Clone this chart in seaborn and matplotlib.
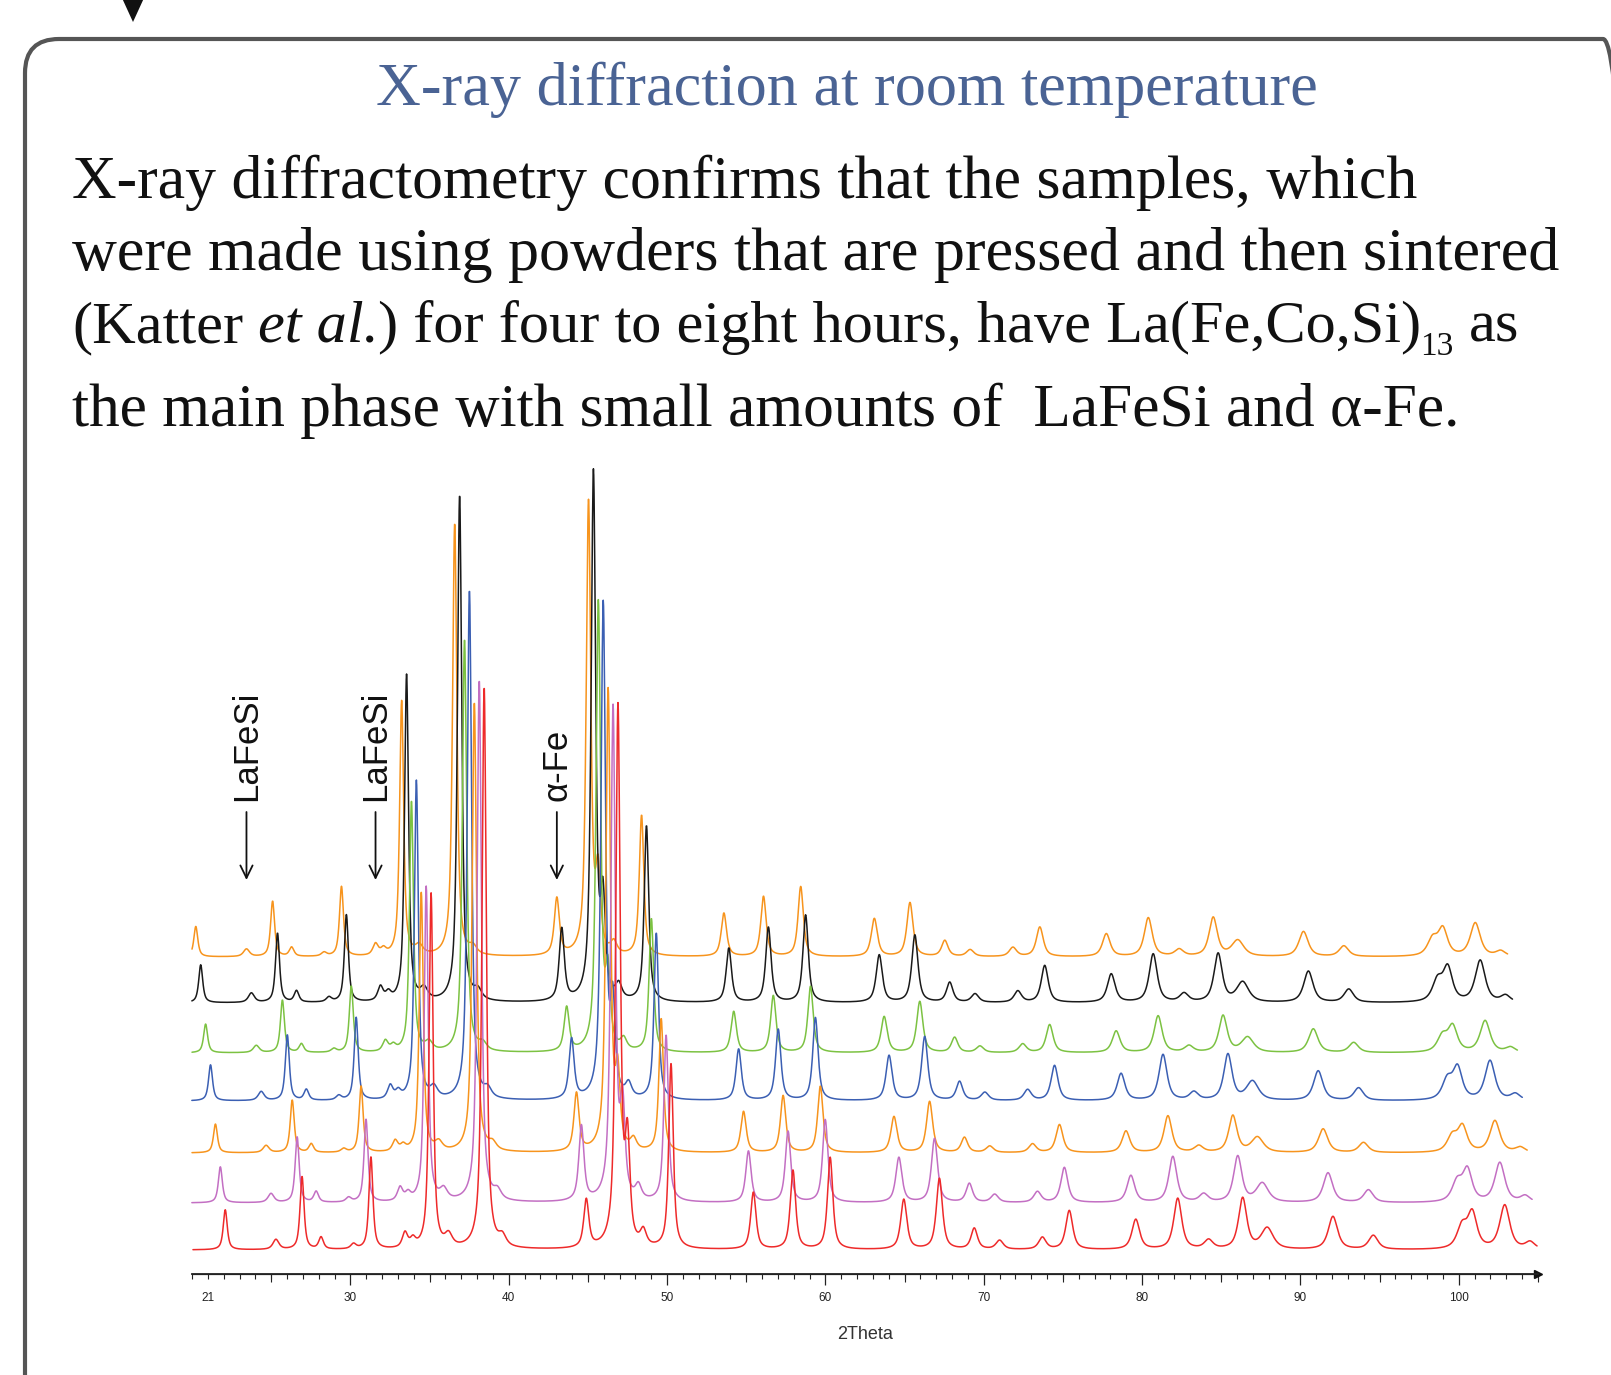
import numpy as np
import pandas as pd
import matplotlib
matplotlib.use("Agg")
import matplotlib.pyplot as plt
import seaborn as sns
from matplotlib.patches import FancyBboxPatch, Polygon
from matplotlib.transforms import IdentityTransform
from matplotlib.ticker import FixedLocator, MultipleLocator

W, H, DPI = 1611, 1375, 100

# ---- diffraction data -------------------------------------------------------
# traces from top to bottom of the stack
samples = ["S1", "S2", "S3", "S4", "S5", "S6", "S7"]
colors = ["#f7941d", "#1a1a1a", "#7cc242", "#3b5fb3", "#f7941d", "#c36fc3", "#ee2a2a"]
intensity_scale = [0.76, 0.95, 0.72, 0.90, 0.72, 0.90, 1.00]

# strongest La(Fe,Co,Si)13 reflections, height per sample
main_pos = [35.10, 38.45, 46.90]
main_fwhm = [0.30, 0.32, 0.34]
main_35 = [255, 327, 250, 319, 259, 315, 355]
main_38 = [433, 507, 413, 510, 450, 522, 562]
main_47 = [452, 527, 448, 494, 460, 492, 540]

# alpha-Fe (110), height per sample
alpha_fe_pos, alpha_fe_fwhm = 44.90, 0.38
alpha_fe_height = [57, 72, 44, 60, 58, 75, 48]

# remaining reflections: 2theta (deg), height (counts, arb.), FWHM (deg)
peak_pos = [22.10, 25.30, 26.95, 28.15, 30.20, 31.30, 33.45, 33.95, 36.20, 39.60,
            47.50, 48.50, 50.25, 55.45, 57.95, 60.30, 64.95, 67.20, 69.40, 71.00,
            73.70, 75.40, 79.60, 82.25, 84.20, 86.35, 87.90, 92.05, 94.60, 100.20,
            100.85, 102.90, 104.50]
peak_height = [40, 10, 73, 12, 5, 92, 15, 8, 12, 10,
               100, 15, 185, 57, 79, 92, 50, 71, 21, 9,
               12, 39, 30, 51, 9, 51, 21, 33, 14, 22,
               35, 44, 7]
peak_fwhm = [0.30, 0.45, 0.30, 0.35, 0.40, 0.30, 0.40, 0.40, 0.55, 0.55,
             0.36, 0.45, 0.34, 0.40, 0.40, 0.40, 0.46, 0.46, 0.48, 0.55,
             0.55, 0.52, 0.58, 0.60, 0.65, 0.62, 0.90, 0.70, 0.70, 0.75,
             0.70, 0.75, 0.70]
lafesi_pos = [25.30, 33.45]

scan_start, scan_end, scan_step = 20.06, 104.95, 0.02

# stacking of the traces (display offsets)
y_offset = [317, 271, 221, 173, 121, 71, 24]
x_offset = [-1.86, -1.55, -1.24, -0.93, -0.62, -0.31, 0.0]


def pseudo_voigt(tt, pos, h, fwhm, eta=0.75):
    d = (tt - pos) / (fwhm / 2)
    return h * (eta / (1 + d ** 2) + (1 - eta) * np.exp(-np.log(2) * d ** 2))


tt = np.arange(scan_start, scan_end, scan_step)
main_heights = list(zip(main_35, main_38, main_47))
frames = []
for i, s in enumerate(samples):
    counts = np.zeros_like(tt)
    for p, h, w in zip(peak_pos, peak_height, peak_fwhm):
        counts += intensity_scale[i] * pseudo_voigt(tt, p, h, w)
    for p, h, w in zip(main_pos, main_heights[i], main_fwhm):
        counts += pseudo_voigt(tt, p, h, w)
    counts += pseudo_voigt(tt, alpha_fe_pos, alpha_fe_height[i], alpha_fe_fwhm)
    frames.append(pd.DataFrame({"sample": s,
                                "two_theta": tt + x_offset[i],
                                "counts": counts + y_offset[i]}))
df = pd.concat(frames, ignore_index=True)

# ---- figure -----------------------------------------------------------------
sns.set_style("ticks")
plt.rcParams["font.family"] = ["Liberation Sans", "DejaVu Sans"]

fig = plt.figure(figsize=(W / DPI, H / DPI), dpi=DPI)
fig.patch.set_facecolor("white")

# slide frame and connector arrowhead
frame = FancyBboxPatch((25, -60), 1612, H - 39 + 60,
                       boxstyle="round,pad=0,rounding_size=34",
                       transform=IdentityTransform(), fill=False,
                       edgecolor="#555555", linewidth=3.0)
fig.patches.append(frame)
tri = Polygon([(122, H + 2), (144, H + 2), (133, H - 22)], closed=True,
              transform=IdentityTransform(), facecolor="#111111", edgecolor="none")
fig.patches.append(tri)

renderer = fig.canvas.get_renderer()
SERIF = "Liberation Serif"


def text_width(s, size, **kw):
    t = fig.text(0, 0, s, fontsize=size, **kw)
    w = t.get_window_extent(renderer).width
    t.remove()
    return w


def rich_line(pieces, x_px, base_px, width_px, ref=40.0, **common):
    """Lay out a line made of styled pieces, scaled to a given pixel width.
    Each piece: (text, style) where style may hold 'style', 'rel' (size
    factor) and 'drop' (baseline drop in em). None stands for a word space."""
    space = text_width("x x", ref, **common) - text_width("xx", ref, **common)
    widths = []
    for p in pieces:
        if p is None:
            widths.append(space)
        else:
            s, st = p
            widths.append(text_width(s, ref * st.get("rel", 1.0),
                                     style=st.get("style", "normal"), **common))
    k = width_px / sum(widths)
    size = ref * k
    x = x_px
    for p, w in zip(pieces, widths):
        if p is not None:
            s, st = p
            drop = st.get("drop", 0.0) * size * DPI / 72
            fig.text(x / W, 1 - (base_px + drop) / H, s, ha="left", va="baseline",
                     fontsize=size * st.get("rel", 1.0),
                     style=st.get("style", "normal"), **common)
        x += w * k


def fitted_text(s, x_px, base_px, width_px, ha="left", **kw):
    t = fig.text(x_px / W, 1 - base_px / H, s, ha=ha, va="baseline",
                 fontsize=40, **kw)
    w = t.get_window_extent(renderer).width
    t.set_fontsize(40 * width_px / w)
    return t


fitted_text("X-ray diffraction at room temperature", 847, 105, 942, ha="center",
            family=SERIF, color="#4a6394")

plain = {}
body = [
    ([("X-ray diffractometry confirms that the samples, which", plain)], 198, 1344),
    ([("were made using powders that are pressed and then sintered", plain)], 270, 1487),
    ([("(Katter", plain), None, ("et al.", {"style": "italic"}),
      (") for four to eight hours, have La(Fe,Co,Si)", plain),
      ("13", {"rel": 0.55, "drop": 0.22}), None, ("as", plain)], 342, 1447),
    ([("the main phase with small amounts of  LaFeSi and \u03b1-Fe.", plain)], 426, 1387),
]
for pieces, base, width in body:
    rich_line(pieces, 72, base, width, family=SERIF, color="#111111")

# ---- XRD chart --------------------------------------------------------------
ax = fig.add_axes([192 / W, (H - 1274) / H, (1538 - 192) / W, (1274 - 440) / H])
sns.lineplot(data=df, x="two_theta", y="counts", hue="sample",
             palette=dict(zip(samples, colors)), estimator=None, sort=False,
             legend=False, linewidth=1.1, ax=ax)
for ln in ax.lines:
    ln.set_clip_on(False)

ax.set_xlim(20, 105)
ax.set_ylim(0, 834)
ax.set_facecolor("none")
for side in ("left", "right", "top"):
    ax.spines[side].set_visible(False)
ax.spines["bottom"].set_linewidth(1.3)
ax.spines["bottom"].set_color("#222222")
ax.set_yticks([])
ax.set_ylabel("")

ax.xaxis.set_major_locator(FixedLocator(list(range(30, 101, 10))))
ax.xaxis.set_minor_locator(MultipleLocator(1))
ax.tick_params(axis="x", which="major", length=8, width=0.9, direction="out",
               labelsize=8.5, pad=5, colors="#222222")
ax.tick_params(axis="x", which="minor", length=3.6, width=0.8, direction="out",
               colors="#222222")
ax.set_xlabel("2Theta", fontsize=13, color="#333333")
ax.xaxis.set_label_coords(0.5, -0.062)

mid = ax.secondary_xaxis("bottom")
mid.set_xticks(list(range(25, 106, 10)))
mid.tick_params(length=5.8, width=0.8, labelbottom=False, colors="#222222")

first = ax.secondary_xaxis("bottom")
first.set_xticks([21])
first.set_xticklabels(["21"])
first.tick_params(length=0, labelsize=8.5, pad=13, colors="#222222")

ax.plot(1, 0, marker=">", color="#111111", markersize=6,
        transform=ax.transAxes, clip_on=False)

# phase markers above the top trace
marks = [(lafesi_pos[0], "LaFeSi"), (lafesi_pos[1], "LaFeSi"),
         (alpha_fe_pos, "\u03b1-Fe")]
for pos, label in marks:
    xm = pos + x_offset[0]
    ax.annotate("", xy=(xm, 394), xytext=(xm, 462),
                arrowprops=dict(arrowstyle="->,head_length=0.45,head_width=0.22",
                                lw=1.3, color="#111111", shrinkA=0, shrinkB=0,
                                mutation_scale=20))
    ax.text(xm, 473, label, rotation=90, ha="center", va="bottom",
            fontsize=25, color="#111111")

fig.savefig("out.png", dpi=DPI, facecolor="white")
